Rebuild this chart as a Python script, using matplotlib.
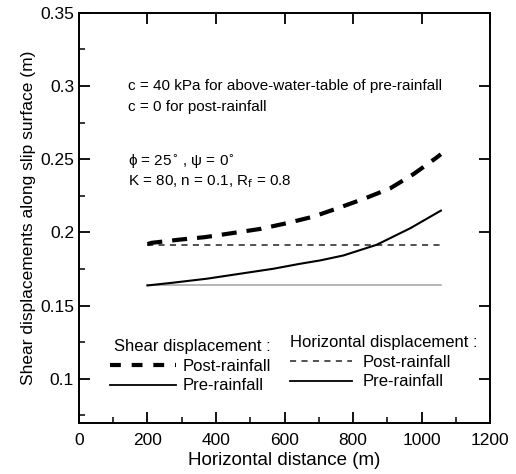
import matplotlib
matplotlib.use('Agg')
from matplotlib import pyplot as plt
from matplotlib.lines import Line2D
from matplotlib.ticker import MultipleLocator

plt.rcParams['font.family'] = ['Liberation Sans', 'DejaVu Sans']

# shear displacement along slip surface (m) vs horizontal distance (m)
x_post = [200, 212, 290, 368, 446, 529, 606, 684, 757, 835, 908, 976, 1044, 1056]
shear_post = [0.192, 0.1929, 0.1950, 0.1968, 0.1995, 0.2024, 0.2063, 0.2108,
              0.2167, 0.2233, 0.2301, 0.2398, 0.2512, 0.2534]

x_pre = [200, 275, 373, 470, 567, 645, 704, 772, 869, 967, 1056]
shear_pre = [0.1638, 0.1657, 0.1684, 0.1718, 0.1752, 0.1786, 0.1809, 0.1843,
             0.1916, 0.2029, 0.2149]

# horizontal displacement (constant along the slope)
x_horiz = [200, 1056]
horiz_post = [0.1916, 0.1916]
horiz_pre = [0.1638, 0.1638]

fig = plt.figure(figsize=(5.16, 4.74), dpi=100)
ax = fig.add_axes([0.153, 0.108, 0.797, 0.865])

ax.plot(x_horiz, horiz_pre, color='#a0a0a0', lw=1.1)
ax.plot(x_horiz, horiz_post, color='#222222', lw=1.1, ls=(0, (4, 3.5)))
ax.plot(x_pre, shear_pre, color='black', lw=1.5)
ax.plot(x_post, shear_post, color='black', lw=3, ls=(0, (3.6, 2.4)))

ax.set_xlim(0, 1200)
ax.set_ylim(0.07, 0.35)
ax.set_xticks([0, 200, 400, 600, 800, 1000, 1200])
ax.set_xticklabels(['0', '200', '400', '600', '800', '1000', '1200'])
ax.set_yticks([0.1, 0.15, 0.2, 0.25, 0.3, 0.35])
ax.set_yticklabels(['0.1', '0.15', '0.2', '0.25', '0.3', '0.35'])
ax.xaxis.set_minor_locator(MultipleLocator(100))
ax.yaxis.set_minor_locator(MultipleLocator(0.025))
ax.tick_params(which='both', direction='in', top=True, right=True, labelsize=12.5)
ax.tick_params(which='major', length=8, width=1.3)
ax.tick_params(which='minor', length=4, width=1.1, top=False, right=False)
ax.tick_params(axis='x', pad=7)
for s in ax.spines.values():
    s.set_linewidth(1.4)

ax.set_xlabel('Horizontal distance (m)', fontsize=13.5, labelpad=3)
ax.set_ylabel('Shear displacements along slip surface (m)', fontsize=12.5, labelpad=3)

note = dict(fontsize=11, va='center')
ax.text(143, 0.30, 'c = 40 kPa for above-water-table of pre-rainfall', **note)
ax.text(143, 0.2855, 'c = 0 for post-rainfall', **note)
ax.text(143, 0.2485, 'ϕ = 25$^{\\circ}$ , ψ = 0$^{\\circ}$', **note)
ax.text(143, 0.2345, 'K = 80, n = 0.1, R$_{\\mathsf{f}}$ = 0.8', **note)

h_post = Line2D([], [], color='black', lw=3, ls=(0, (2.6, 2.6)))
h_pre = Line2D([], [], color='black', lw=1.3)
h_hpost = Line2D([], [], color='#222222', lw=1.1, ls=(0, (4, 3.5)))
h_hpre = Line2D([], [], color='black', lw=1.3)

leg_kw = dict(loc='upper left', frameon=False, fontsize=12, title_fontsize=12,
              labelspacing=0.28, borderpad=0, borderaxespad=0)
leg1 = ax.legend([h_post, h_pre], ['Post-rainfall', 'Pre-rainfall'], title='Shear displacement :',
                 bbox_to_anchor=(0.075, 0.204), handlelength=4.0, handletextpad=0.36, **leg_kw)
leg1._legend_box.align = 'right'
ax.add_artist(leg1)
leg2 = ax.legend([h_hpost, h_hpre], ['Post-rainfall', 'Pre-rainfall'], title='Horizontal displacement :',
                 bbox_to_anchor=(0.513, 0.214), handlelength=3.7, handletextpad=0.66, **leg_kw)
leg2._legend_box.align = 'left'

fig.savefig('out.png', dpi=100)
